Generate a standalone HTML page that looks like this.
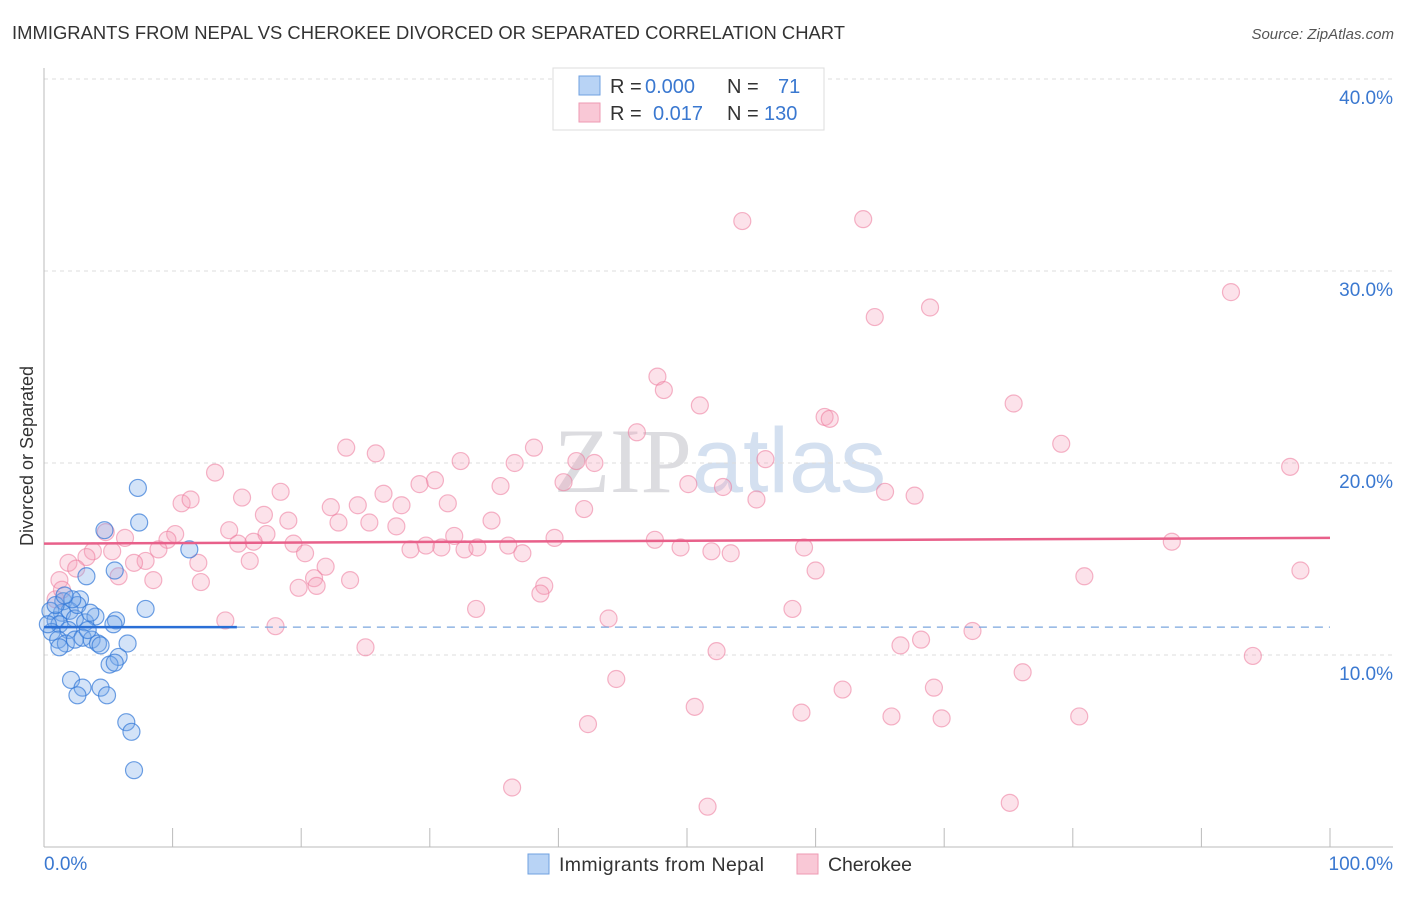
<!DOCTYPE html>
<html><head><meta charset="utf-8"><style>
body{margin:0;background:#fff;font-family:"Liberation Sans",sans-serif}
</style></head><body>
<svg id="chart" width="1406" height="892" xmlns="http://www.w3.org/2000/svg" font-family="Liberation Sans, sans-serif">
<text x="12" y="39" font-size="18.4" fill="#333" textLength="833">IMMIGRANTS FROM NEPAL VS CHEROKEE DIVORCED OR SEPARATED CORRELATION CHART</text>
<text x="1394" y="39" font-size="15" fill="#555" font-style="italic" text-anchor="end">Source: ZipAtlas.com</text>
<text x="720" y="492" font-size="92" text-anchor="middle" fill="#e6e6ea"><tspan font-family="Liberation Serif, serif" fill="#dcdce0">ZIP</tspan><tspan fill="#d4e0f0">atlas</tspan></text>
<text transform="translate(33,456) rotate(-90)" font-size="18" fill="#333" text-anchor="middle">Divorced or Separated</text>
<g id="grid"></g><g id="axes"></g><g id="pts"></g><g id="trends"></g>
<g>
<rect x="553" y="68" width="271" height="62" fill="#fff" stroke="#ddd"/>
<rect x="579" y="76" width="21" height="19" fill="#b8d3f5" stroke="#6fa0e0"/>
<rect x="579" y="103" width="21" height="19" fill="#f9c8d6" stroke="#ee9ab3"/>
<text x="610" y="93" font-size="20" fill="#333">R = <tspan x="645" fill="#3a78d0">0.000</tspan><tspan x="727">N =</tspan><tspan x="778" fill="#3a78d0">71</tspan></text>
<text x="610" y="120" font-size="20" fill="#333">R = <tspan x="653" fill="#3a78d0">0.017</tspan><tspan x="727">N =</tspan><tspan x="764" fill="#3a78d0">130</tspan></text>
</g>
<g>
<rect x="528" y="854" width="21" height="20" fill="#b8d3f5" stroke="#6fa0e0"/>
<text x="559" y="871" font-size="19.5" fill="#333" textLength="205">Immigrants from Nepal</text>
<rect x="797" y="854" width="21" height="20" fill="#f9c8d6" stroke="#ee9ab3"/>
<text x="828" y="871" font-size="19.5" fill="#333" textLength="84">Cherokee</text>
</g>
</svg>
<script>
const yTicks=[10,20,30,40];
const yTickLabels=["10.0%","20.0%","30.0%","40.0%"];
const xTickLabels=["0.0%","100.0%"];
const nepalX=[7.3,7.4,4.7,11.3,5.5,3.3,7.9,5.6,1.4,2.8,1.5,0.5,0.9,2.0,2.4,3.2,4.0,1.2,1.9,0.6,1.1,1.7,2.4,3.0,3.7,4.2,5.4,2.6,2.2,4.4,6.5,5.8,5.1,5.5,2.1,3.0,2.6,4.4,4.9,6.4,6.8,7.0,1.2,0.3,0.9,1.6,3.4,3.6];
const nepalY=[18.7,16.9,16.5,15.5,14.4,14.1,12.4,11.8,12.2,12.9,12.8,12.3,11.8,12.3,11.9,11.7,12.0,11.6,11.3,11.2,10.8,10.6,10.8,10.9,10.8,10.6,11.6,12.6,12.9,10.5,10.6,9.9,9.5,9.6,8.7,8.3,7.9,8.3,7.9,6.5,6.0,4.0,10.4,11.6,12.6,13.1,11.3,12.2];
const cherX=[54.3,63.7,64.6,68.9,92.3,47.7,48.2,51.0,60.7,61.1,75.4,46.1,23.5,25.8,38.1,32.4,36.6,41.4,42.8,56.1,79.1,96.9,13.3,30.4,29.2,18.4,15.4,26.4,35.5,40.4,50.1,52.8,65.4,67.7,55.4,10.7,11.4,31.4,27.8,22.3,24.4,42.0,17.1,19.0,25.3,27.4,22.9,34.8,14.4,17.3,10.2,9.6,8.9,6.3,4.8,15.1,16.3,19.4,31.9,39.7,36.1,28.5,29.7,30.9,32.7,33.7,47.5,49.5,51.9,53.4,59.1,87.7,20.3,37.2,16.0,7.9,7.0,12.0,5.3,3.8,3.3,1.9,2.5,5.8,1.2,8.5,12.2,21.0,21.9,23.8,19.8,21.2,38.9,38.6,60.0,80.9,97.7,33.6,58.2,43.9,14.1,18.0,72.2,68.2,66.6,25.0,52.3,94.0,76.1,44.5,69.2,62.1,50.6,58.9,65.9,69.8,80.5,42.3,36.4,51.6,75.1,0.9,1.4];
const cherY=[32.6,32.7,27.6,28.1,28.9,24.5,23.8,23.0,22.4,22.3,23.1,21.6,20.8,20.5,20.8,20.1,20.0,20.1,20.0,20.2,21.0,19.8,19.5,19.1,18.9,18.5,18.2,18.4,18.8,19.0,18.9,18.75,18.5,18.3,18.1,17.9,18.1,17.9,17.8,17.7,17.8,17.6,17.3,17.0,16.9,16.7,16.9,17.0,16.5,16.3,16.3,16.0,15.5,16.1,16.4,15.8,15.9,15.8,16.2,16.1,15.7,15.5,15.7,15.6,15.5,15.6,16.0,15.6,15.4,15.3,15.6,15.9,15.3,15.3,14.9,14.9,14.8,14.8,15.4,15.4,15.1,14.8,14.5,14.1,13.9,13.9,13.8,14.0,14.6,13.9,13.5,13.6,13.6,13.2,14.4,14.1,14.4,12.4,12.4,11.9,11.8,11.5,11.25,10.8,10.5,10.4,10.2,9.95,9.1,8.75,8.3,8.2,7.3,7.0,6.8,6.7,6.8,6.4,3.1,2.1,2.3,12.9,13.4];
const nepalTrend=[11.45,11.45];
const cherTrend=[15.8,16.1];
const NS="http://www.w3.org/2000/svg";
const X0=44,X1=1330,Y0=847,PPU=19.2;
const sx=v=>X0+(X1-X0)*v/100;
const sy=v=>Y0-v*PPU;
function mk(tag,attrs,parent){const e=document.createElementNS(NS,tag);for(const k in attrs)e.setAttribute(k,attrs[k]);document.getElementById(parent).appendChild(e);return e;}
yTicks.forEach((t,i)=>{
 const g=mk('line',{x1:44,x2:1393,y1:sy(t),y2:sy(t),stroke:'#ddd','stroke-dasharray':'4,4'},'grid');
 
 
 const l=mk('text',{x:1393,y:sy(t)+25,'font-size':19,fill:'#3a78d0','text-anchor':'end'},'grid');
 l.textContent=yTickLabels[i];
 
 
});
const ax=mk('line',{x1:44,x2:1393,y1:847,y2:847,stroke:'#bbb'},'axes');


const ay=mk('line',{x1:44,x2:44,y1:68,y2:847,stroke:'#bbb'},'axes');


for(let i=1;i<=10;i++){
 const t=mk('line',{x1:sx(i*10),x2:sx(i*10),y1:828,y2:847,stroke:'#bbb'},'axes');
 
 
}
const xl0=mk('text',{x:44,y:870,'font-size':19,fill:'#3a78d0'},'axes');xl0.textContent=xTickLabels[0];


const xl1=mk('text',{x:1393,y:870,'font-size':19,fill:'#3a78d0','text-anchor':'end'},'axes');xl1.textContent=xTickLabels[1];


cherX.forEach((x,i)=>{
 const c=mk('circle',{cx:sx(x),cy:sy(cherY[i]),r:8.5,fill:'rgba(244,160,186,0.3)',stroke:'rgba(236,120,155,0.55)','stroke-width':1.2},'pts');
 
 
});
nepalX.forEach((x,i)=>{
 const c=mk('circle',{cx:sx(x),cy:sy(nepalY[i]),r:8.5,fill:'rgba(120,170,235,0.33)',stroke:'rgba(50,120,215,0.7)','stroke-width':1.2},'pts');
 
 
});
const bd=mk('line',{x1:sx(15),x2:sx(100),y1:sy(nepalTrend[0]),y2:sy(nepalTrend[1]),stroke:'#7aa5dd','stroke-width':1.2,'stroke-dasharray':'8,6'},'trends');


const bt=mk('line',{x1:sx(0),x2:sx(15),y1:sy(nepalTrend[0]),y2:sy(nepalTrend[0]),stroke:'#2a6fd6','stroke-width':2.5},'trends');


const pt=mk('line',{x1:sx(0),x2:sx(100),y1:sy(cherTrend[0]),y2:sy(cherTrend[1]),stroke:'#e8608a','stroke-width':2.5},'trends');


</script>
</body></html>
